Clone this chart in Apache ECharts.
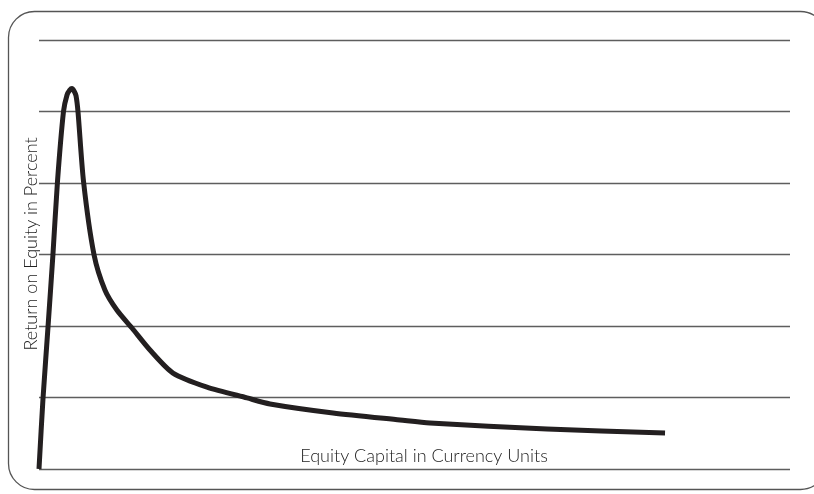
<!DOCTYPE html>
<html>
<head>
<meta charset="utf-8">
<script src="https://cdn.jsdelivr.net/npm/echarts@6/dist/echarts.min.js"></script>
<style>html,body{margin:0;padding:0;background:#fff;}#c{width:814px;height:494px;}</style>
</head>
<body>
<div id="c"></div>
<script>
// Equity capital (relative units, 0-100) and return on equity (percent)
var capital = [0, 0.53, 1.2, 1.86, 2.46, 3.26, 3.73, 4.1, 4.39, 4.7, 4.93, 5.19, 5.93, 7.32, 8.79, 10.39, 12.38, 14.78, 17.84, 22.37, 27.7, 30.76, 39.15, 48.07, 52.06, 67.64, 83.36];
var roe = [0, 4.9, 9.93, 15.03, 20.1, 25.0, 26.15, 26.5, 26.6, 26.4, 26.1, 25.0, 20.1, 15.0, 12.5, 11.1, 9.86, 8.32, 6.71, 5.73, 4.97, 4.55, 3.92, 3.43, 3.22, 2.80, 2.52];
var yTitle = 'Return on Equity in Percent';
var xTitle = 'Equity Capital in Currency Units';

var pts = capital.map(function (c, i) { return [c, roe[i]]; });
var chart = echarts.init(document.getElementById('c'));
chart.setOption({
  animation: false,
  backgroundColor: '#fff',
  grid: { left: 39, right: 24, top: 40, bottom: 25 },
  xAxis: {
    type: 'value', min: 0, max: 100,
    axisLine: { show: false }, axisTick: { show: false }, axisLabel: { show: false },
    splitLine: { show: false }
  },
  yAxis: {
    type: 'value', min: 0, max: 30, interval: 5,
    axisLine: { show: false }, axisTick: { show: false }, axisLabel: { show: false },
    splitLine: { show: true, lineStyle: { color: '#5e5e5e', width: 1.3 } }
  },
  graphic: [
    { type: 'rect', silent: true, z: -1,
      shape: { x: 8.5, y: 11.5, width: 818, height: 478, r: 26 },
      style: { fill: 'none', stroke: '#555', lineWidth: 1.3 } },
    { type: 'text', silent: true,
      x: 424, y: 456,
      style: { text: xTitle, x: 0, y: 0, align: 'center', verticalAlign: 'middle',
        font: '300 18px Lato', fill: '#222' } },
    { type: 'text', silent: true,
      x: 31, y: 244, rotation: Math.PI / 2,
      style: { text: yTitle, x: 0, y: 0, align: 'center', verticalAlign: 'middle',
        font: '300 18px Lato', fill: '#222' } }
  ],
  series: [{
    type: 'line', data: pts, showSymbol: false, smooth: 0.25,
    lineStyle: { color: '#231f20', width: 5, cap: 'butt', join: 'round' }
  }]
});
</script>
</body>
</html>
